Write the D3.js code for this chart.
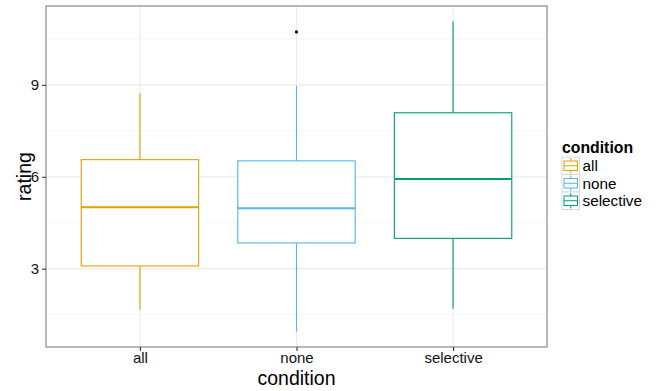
<!DOCTYPE html>
<html>
<head>
<meta charset="utf-8">
<script src="https://cdn.jsdelivr.net/npm/d3@7"></script>
<style>
  body { margin: 0; background: #fff; }
  text { font-family: "Liberation Sans", Arial, sans-serif; }
</style>
</head>
<body>
<svg id="chart" width="659" height="391"></svg>
<script>
// boxplot stats
const categories = ["all", "none", "selective"];
const colors = ["#E69F00", "#56B4E9", "#009E73"];
const lowerWhisker = [1.66, 0.95, 1.69];
const q1 = [3.09, 3.84, 3.99];
const medians = [5.01, 4.97, 5.93];
const q3 = [6.56, 6.52, 8.09];
const upperWhisker = [8.73, 8.97, 11.07];
const outliers = [[], [10.73], []];
const yTicks = [3, 6, 9];
const yMinor = [1.5, 4.5, 7.5, 10.5];

const boxes = categories.map((c, i) => ({
  cat: c, color: colors[i], lo: lowerWhisker[i], q1: q1[i], med: medians[i],
  q3: q3[i], hi: upperWhisker[i], out: outliers[i]
}));

const svg = d3.select("#chart");
const panel = { left: 46, right: 547, top: 6, bottom: 347 };

const yMin = d3.min(boxes, d => Math.min(d.lo, ...d.out));
const yMax = d3.max(boxes, d => Math.max(d.hi, ...d.out));
const pad = (yMax - yMin) * 0.05;
const y = d3.scaleLinear().domain([yMin - pad, yMax + pad]).range([panel.bottom, panel.top]);

const x = d3.scalePoint().domain(categories).range([panel.left, panel.right]).padding(0.6);
const step = x.step();
const bw = step * 0.75;

// grid
const g = svg.append("g");
g.selectAll(".minor").data(yMinor).join("line")
  .attr("x1", panel.left).attr("x2", panel.right)
  .attr("y1", d => y(d)).attr("y2", d => y(d))
  .attr("stroke", "#f5f5f5").attr("stroke-width", 1);
g.selectAll(".major").data(yTicks).join("line")
  .attr("x1", panel.left).attr("x2", panel.right)
  .attr("y1", d => y(d)).attr("y2", d => y(d))
  .attr("stroke", "#ebebeb").attr("stroke-width", 1.2);
g.selectAll(".vmajor").data(categories).join("line")
  .attr("x1", d => x(d)).attr("x2", d => x(d))
  .attr("y1", panel.top).attr("y2", panel.bottom)
  .attr("stroke", "#ebebeb").attr("stroke-width", 1.2);

// boxes
const bx = svg.append("g").selectAll("g").data(boxes).join("g");
bx.append("line")
  .attr("x1", d => x(d.cat)).attr("x2", d => x(d.cat))
  .attr("y1", d => y(d.q3)).attr("y2", d => y(d.hi))
  .attr("stroke", d => d.color).attr("stroke-width", 1.1);
bx.append("line")
  .attr("x1", d => x(d.cat)).attr("x2", d => x(d.cat))
  .attr("y1", d => y(d.q1)).attr("y2", d => y(d.lo))
  .attr("stroke", d => d.color).attr("stroke-width", 1.1);
bx.append("rect")
  .attr("x", d => x(d.cat) - bw / 2).attr("width", bw)
  .attr("y", d => y(d.q3)).attr("height", d => y(d.q1) - y(d.q3))
  .attr("fill", "#fff").attr("stroke", d => d.color).attr("stroke-width", 1.1);
bx.append("line")
  .attr("x1", d => x(d.cat) - bw / 2).attr("x2", d => x(d.cat) + bw / 2)
  .attr("y1", d => y(d.med)).attr("y2", d => y(d.med))
  .attr("stroke", d => d.color).attr("stroke-width", 2);
bx.selectAll("circle").data(d => d.out).join("circle")
  .attr("cx", function() { return x(d3.select(this.parentNode).datum().cat); })
  .attr("cy", d => y(d)).attr("r", 1.6).attr("fill", "#000");

// border
svg.append("rect")
  .attr("x", panel.left).attr("y", panel.top)
  .attr("width", panel.right - panel.left).attr("height", panel.bottom - panel.top)
  .attr("fill", "none").attr("stroke", "#7f7f7f").attr("stroke-width", 1.1);

// axes
const yAxis = svg.append("g").attr("transform", `translate(${panel.left},0)`)
  .call(d3.axisLeft(y).tickValues(yTicks).tickSize(4).tickPadding(3));
const xAxis = svg.append("g").attr("transform", `translate(0,${panel.bottom})`)
  .call(d3.axisBottom(x).tickSize(4).tickPadding(1.5));
[yAxis, xAxis].forEach(a => {
  a.select(".domain").remove();
  a.selectAll(".tick line").attr("stroke", "#333").attr("stroke-width", 1.1);
  a.selectAll(".tick text").attr("fill", "#111").style("font-size", "15px");
});

svg.append("text").attr("x", (panel.left + panel.right) / 2).attr("y", 385)
  .attr("text-anchor", "middle").style("font-size", "19.5px").text("condition");
svg.append("text").attr("transform", `translate(31,${(panel.top + panel.bottom) / 2}) rotate(-90)`)
  .attr("text-anchor", "middle").style("font-size", "19.5px").text("rating");

// legend
const leg = svg.append("g").attr("transform", "translate(562,140)");
leg.append("text").attr("x", 0).attr("y", 13).style("font-size", "15.8px")
  .style("font-weight", "bold").text("condition");
const ks = 17.5;
const item = leg.selectAll(".item").data(boxes).join("g")
  .attr("transform", (d, i) => `translate(0,${17 + i * ks})`);
item.append("rect").attr("width", ks).attr("height", ks)
  .attr("fill", "#fff").attr("stroke", "#d9d9d9").attr("stroke-width", 1);
item.append("line").attr("x1", ks / 2).attr("x2", ks / 2).attr("y1", 1).attr("y2", ks - 1)
  .attr("stroke", d => d.color);
item.append("rect").attr("x", 2).attr("y", 4).attr("width", ks - 4).attr("height", ks - 8)
  .attr("fill", "#fff").attr("stroke", d => d.color);
item.append("line").attr("x1", 2).attr("x2", ks - 2).attr("y1", ks / 2).attr("y2", ks / 2)
  .attr("stroke", d => d.color);
item.append("text").attr("x", ks + 3).attr("y", ks / 2 + 5.5).style("font-size", "15.3px")
  .text(d => d.cat);
</script>
</body>
</html>
